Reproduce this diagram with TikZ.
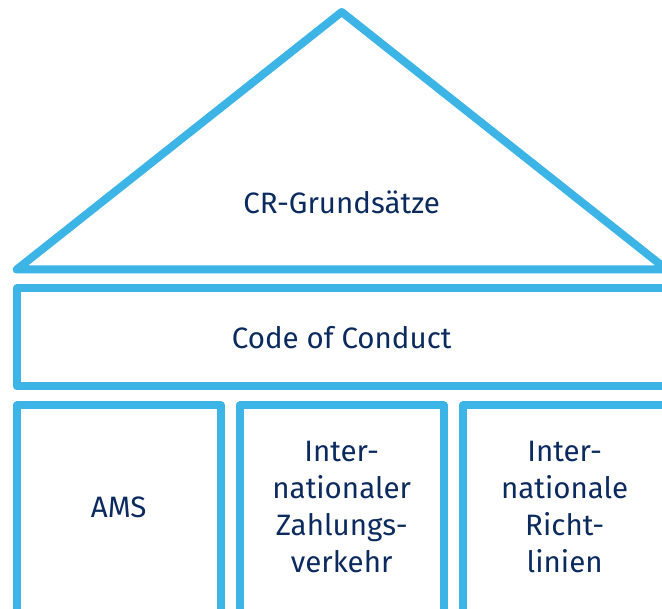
\documentclass[tikz,border=0pt]{standalone}
\usepackage{fontspec}
\setmainfont{Fira Sans}
\usetikzlibrary{
	calc,
	positioning,
}
\definecolor{hausblau}{HTML}{3CB4E6}
\definecolor{textblau}{HTML}{0B2A5E}

\begin{document}
\begin{tikzpicture}[
	x=1pt, y=1pt,
	wand/.style={draw=hausblau, line width=8pt, line join=round},
	feld/.style={wand, minimum width=204pt, minimum height=224pt, inner sep=0pt},
	beschriftung/.style={text=textblau, font=\fontsize{29.5}{37}\selectfont, align=center},
]
\useasboundingbox (0,0) rectangle (662,609);
\clip (0,0) rectangle (662,609);

% untere Reihe
\node[feld, anchor=north west] (ams) at (12.7,207.5) {};
\node[feld, right=11pt of ams] (zahlung) {};
\node[feld, right=11pt of zahlung] (richtlinien) {};

% Code of Conduct
\node[wand, beschriftung, minimum width=650pt, minimum height=98pt, above=11pt of zahlung] (kodex) {Code of Conduct};

% Dach
\coordinate (traufe links) at ($(kodex.north west)+(4,15)$);
\coordinate (traufe rechts) at ($(kodex.north east)+(-4,15)$);
\coordinate (first) at ($(kodex.north)+(0,272.5)$);
\draw[wand] (traufe links) -- (first) -- (traufe rechts) -- cycle;
\node[beschriftung] (grundsaetze) at ($(kodex.north)+(0,82)$) {CR-Grundsätze};

\coordinate (textlinie) at (0,102);
\node[beschriftung] (amstext) at (ams |- textlinie) {AMS};
\node[beschriftung] (zahlungtext) at (zahlung |- textlinie) {Inter-\\nationaler\\Zahlungs-\\verkehr};
\node[beschriftung] (richtlinientext) at (richtlinien |- textlinie) {Inter-\\nationale\\Richt-\\linien};
\end{tikzpicture}
\end{document}
